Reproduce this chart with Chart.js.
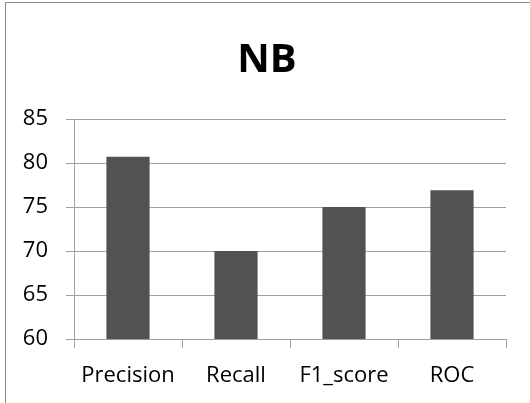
<!DOCTYPE html>
<html>
<head>
<meta charset="utf-8">
<script src="https://cdn.jsdelivr.net/npm/chart.js@4"></script>
<style>
  html, body { margin: 0; padding: 0; background: #fff; overflow: hidden; }
  #wrap { position: relative; width: 530px; height: 403px; }
  #frame { position: absolute; left: 5px; top: 2px; width: 600px; height: 500px; border: 1px solid #8c8c8c; box-sizing: border-box; }
  #chartNB { position: absolute; left: 0; top: 0; }
</style>
</head>
<body>
<div id="wrap">
  <div id="frame"></div>
  <canvas id="chartNB" width="530" height="403"></canvas>
</div>
<script>
const categories = ['Precision', 'Recall', 'F1_score', 'ROC'];
const nbValues = [80.7, 70.0, 75.0, 76.9];
const yTicks = [60, 65, 70, 75, 80, 85];

const gridColor = '#a0a0a0';

const dataNB = {
    labels: categories,
    datasets: [{
        label: 'NB',
        data: nbValues,
        backgroundColor: '#525252',
        borderWidth: 0,
        categoryPercentage: 1,
        barPercentage: 0.4
    }]
};

const configNB = {
    type: 'bar',
    data: dataNB,
    options: {
        responsive: false,
        animation: false,
        layout: {
            padding: { top: 0, right: 0, bottom: 0, left: 4 }
        },
        plugins: {
            legend: { display: false },
            tooltip: { enabled: false },
            title: {
                display: true,
                text: 'NB',
                color: '#000',
                font: { family: 'Open Sans', size: 40, weight: 'bold', lineHeight: 1.2 },
                padding: { top: 37, bottom: 34 }
            }
        },
        scales: {
            x: {
                afterFit: function(scale) {
                    scale.height = 64; // axis line sits near y=339
                },
                grid: {
                    offset: true,
                    drawOnChartArea: false,
                    drawTicks: true,
                    tickLength: 9,
                    color: gridColor
                },
                border: { display: true, color: gridColor },
                ticks: {
                    color: '#000',
                    padding: 15,
                    font: { family: 'Open Sans', size: 22 }
                }
            },
            y: {
                min: yTicks[0],
                max: yTicks[yTicks.length - 1],
                afterBuildTicks: function(scale) {
                    scale.ticks = yTicks.map(v => ({ value: v }));
                },
                afterFit: function(scale) {
                    scale.width = 70;
                },
                grid: {
                    color: gridColor,
                    tickLength: 8
                },
                border: { display: true, color: gridColor },
                ticks: {
                    color: '#000',
                    padding: 18,
                    font: { family: 'Open Sans', size: 22 }
                }
            },
            // empty strip on the right so the title centres over the frame
            spacer: {
                type: 'linear',
                position: 'right',
                grid: { display: false },
                border: { display: false },
                ticks: { display: false },
                afterFit: function(scale) {
                    scale.width = 24;
                }
            }
        }
    }
};

const chartNB = new Chart(document.getElementById('chartNB'), configNB);
</script>
</body>
</html>
